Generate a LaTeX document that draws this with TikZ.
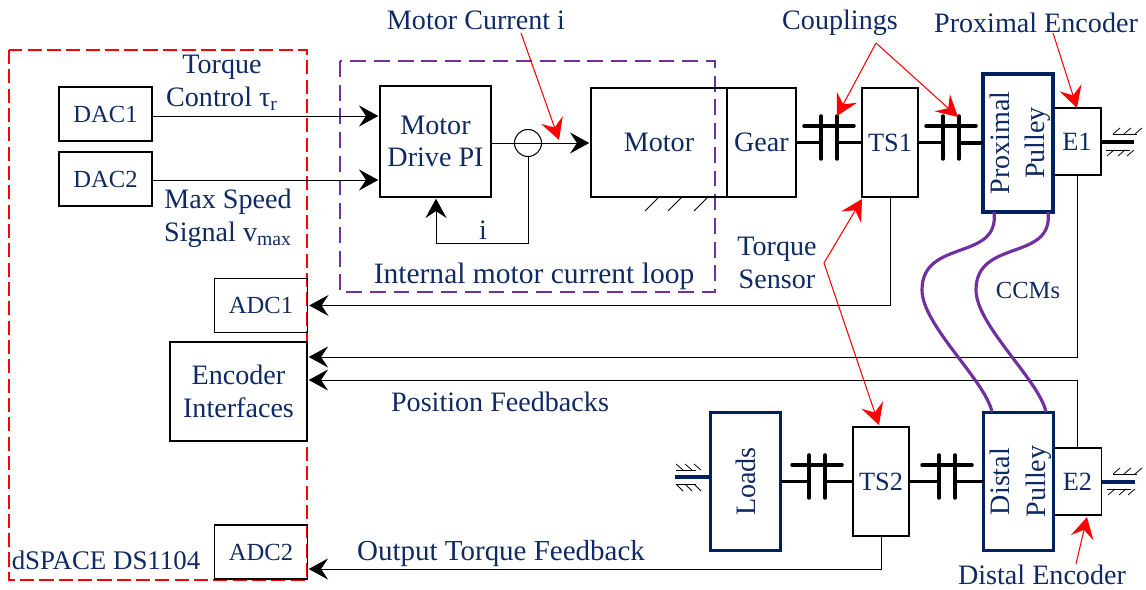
\documentclass[tikz,border=0pt]{standalone}
\usepackage{fontspec}
\setmainfont{Liberation Serif}
\usepackage{xcolor}
\usetikzlibrary{arrows.meta,positioning}
\definecolor{labelblue}{HTML}{0F2A63}
\definecolor{pulleyblue}{HTML}{002060}
\definecolor{ccmpurple}{HTML}{7030A0}
\tikzset{
every node/.style={text=labelblue,font=\fontsize{16}{18.7}\selectfont,align=center,inner sep=0pt,outer sep=0pt},
block/.style={draw=black,line width=.85pt},
convbox/.style={block,minimum width=1.86cm,minimum height=1.08cm,font=\fontsize{14}{16}\selectfont},
sensorbox/.style={block,minimum width=1.12cm,minimum height=2.18cm,font=\fontsize{15}{18}\selectfont},
encbox/.style={block,minimum width=.96cm,minimum height=1.34cm,font=\fontsize{15}{18}\selectfont},
thickbox/.style={draw=pulleyblue,line width=1.8pt,minimum width=1.40cm,minimum height=2.76cm},
signal/.style={line width=.5pt,-{Stealth[length=11pt,width=12pt,inset=4pt]},shorten >=1pt},
callout/.style={red,line width=.6pt,-{Stealth[length=12pt,width=13pt,inset=4.5pt]}},
shaft/.style={line width=2pt},
hatch/.style={line width=.45pt},
ccm/.style={ccmpurple,line width=1.8pt}
}
\begin{document}
\begin{tikzpicture}[x=.02cm,y=-.02cm]
\useasboundingbox (0,0) rectangle (1146,590);
%\draw[help lines] (0,0) grid (1146,590);
% frames
\draw[red,line width=.6pt,dash pattern=on 8pt off 3pt] (9,50) rectangle (307,580);
\draw[ccmpurple,line width=.9pt,dash pattern=on 9pt off 4.5pt] (340,61) rectangle (715,292);
% blocks
\node[convbox] (dac1) at (105.5,114) {DAC1};
\node[convbox] (dac2) at (105.5,179) {DAC2};
\node[convbox] (adc1) at (261,305.5) {ADC1};
\node[convbox] (adc2) at (261,552) {ADC2};
\node[block,minimum width=2.74cm,minimum height=1.98cm] (enc) at (238.5,391.5) {Encoder\\Interfaces};
\node[block,minimum width=2.22cm,minimum height=2.22cm] (drive) at (435.5,141.5) {Motor\\Drive PI};
\node[draw=black,line width=.6pt,circle,minimum size=.54cm] (sum) at (528,143) {};
\node[block,minimum width=2.72cm,minimum height=2.18cm] (motor) at (659,142.5) {Motor};
\node[block,minimum width=1.38cm,minimum height=2.18cm] (gear) at (761.5,142.5) {Gear};
\node[sensorbox] (ts1) at (890,142.5) {TS1};
\node[sensorbox] (ts2) at (881,481.5) {TS2};
\node[encbox] (e1) at (1077,141.5) {E1};
\node[encbox] (e2) at (1077.5,481.5) {E2};
\node[thickbox] (ppulley) at (1018,143) {\makebox[0pt]{\hspace{3pt}\rotatebox{90}{\begin{tabular}{@{}c@{}}Proximal\\[1.5pt]Pulley\end{tabular}}}};
\node[thickbox] (dpulley) at (1018.5,481.5) {\makebox[0pt]{\hspace{3pt}\rotatebox{90}{\begin{tabular}{@{}c@{}}Distal\\[1.5pt]Pulley\end{tabular}}}};
\node[thickbox] (loads) at (745.5,481.5) {\rotatebox{90}{Loads}};
% labels
\node (lcur) at (476,20) {Motor Current i};
\node (lcpl) at (840,23) {Couplings};
\node (lpenc) at (1036,23) {Proximal Encoder};
\node (ltau) at (222,83) {Torque\\Control τ\textsubscript{r}};
\node (lmax) at (228,218) {Max Speed\\Signal v\textsubscript{max}};
\node (li) at (483,230) {i};
\node[font=\fontsize{16.8}{19}\selectfont] (lloop) at (534,276) {Internal motor current loop};
\node (lsens) at (777,263) {Torque\\Sensor};
\node[font=\fontsize{14}{16}\selectfont] (lccm) at (1028,290) {CCMs};
\node (lpos) at (500,402) {Position Feedbacks};
\node[font=\fontsize{16.5}{19}\selectfont] (lout) at (501,554) {Output Torque Feedback};
\node[font=\fontsize{15.3}{18}\selectfont] (lds) at (106,560) {dSPACE DS1104};
\node (ldenc) at (1042,575) {Distal Encoder};
% signals
\coordinate (da1) at (152,116);
\coordinate (da2) at (152,180);
\coordinate (encup) at (307,357);
\coordinate (enclo) at (307,380);
\coordinate (fb) at (436,243);
\draw[signal] (da1) -- (da1 -| drive.west);
\draw[signal] (da2) -- (da2 -| drive.west);
\draw[signal] (drive.east |- sum) -- (motor.west |- sum);
\draw[signal] (sum.south) |- (fb) -- (fb |- drive.south);
\draw[signal] (ts1.south) |- (adc1.east);
\draw[signal] (e1.south) |- (encup);
\draw[signal] (e2.north) |- (enclo);
\coordinate (adc2in) at (307,569);
\draw[signal] (ts2.south) |- (adc2in);
% couplings
\foreach \p/\q/\a/\b/\t in {gear/ts1/821/837/116,ts1/ppulley/943/959/116,loads/ts2/809/825/455,ts2/dpulley/939/955/455}
{
\coordinate (ca) at (\a,\t);
\coordinate (cb) at (\b,\t);
\draw[shaft] (\p.east) -- (\p.east -| ca);
\draw[shaft] (\q.west) -- (\q.west -| cb);
\draw[shaft,line cap=round] (ca) -- (\a,\t+43);
\draw[shaft,line cap=round] (cb) -- (\b,\t+43);
\draw[shaft,line cap=round] (\a-17,\t+10) -- (\b+17,\t+10);
}
% ground
\foreach \x in {658,681,707}\draw[hatch] (\x,198) -- (\x-13,211);
\coordinate (se1) at (1134,142);
\coordinate (se2) at (1135,482);
\coordinate (sload) at (675,477);
\draw[shaft] (e1.east |- se1) -- (se1);
\draw[shaft,pulleyblue] (e2.east |- se2) -- (se2);
\draw[shaft,pulleyblue] (loads.west |- sload) -- (sload);
\foreach \x/\y in {1113/134,1113/474}{
\draw[hatch] (\x,\y) -- (\x+24,\y);
\foreach \d in {0,11,22}\draw[hatch] (\x+\d,\y) -- (\x+\d+7,\y-6);
}
\foreach \x/\y in {1106/150,1107/489}{
\draw[hatch] (\x,\y) -- (\x+24,\y);
\foreach \d in {8,19,28}\draw[hatch] (\x+\d,\y) -- (\x+\d-7,\y+6);
}
\draw[hatch] (676,470) -- (696,470);
\foreach \d in {0,9,18}\draw[hatch] (676+\d+7,470) -- (676+\d,464);
\draw[hatch] (676,484) -- (696,484);
\foreach \d in {0,9,18}\draw[hatch] (676+\d,484) -- (676+\d+7,491);
% ccm belts
\foreach \x in {0,54}{
\coordinate (cu) at (994+\x,212);
\coordinate (cl) at (992+\x,412);
\draw[ccm] (cu) .. controls (1000+\x,262) and (922+\x,238) .. (922+\x,290)
 .. controls (922+\x,325) and (985+\x,380) .. (cl);
}
% callouts
\coordinate (tcur) at (559,140);
\coordinate (scur) at (521,33);
\coordinate (tc1) at (837,116);
\coordinate (tc2) at (958,117);
\coordinate (acpl) at (876,43);
\coordinate (tpe) at (1077,108);
\coordinate (spe) at (1053,33);
\coordinate (asens) at (824,263);
\coordinate (tts1) at (862,199);
\coordinate (tts2) at (879,425);
\coordinate (sde) at (1076,564);
\coordinate (tde) at (1087,517);
\draw[callout] (scur) -- (tcur);
\draw[callout] (acpl) -- (tc1);
\draw[callout] (acpl) -- (tc2);
\draw[callout] (spe) -- (tpe);
\draw[callout] (asens) -- (tts1);
\draw[callout] (asens) -- (tts2);
\draw[callout] (sde) -- (tde);
\end{tikzpicture}
\end{document}
